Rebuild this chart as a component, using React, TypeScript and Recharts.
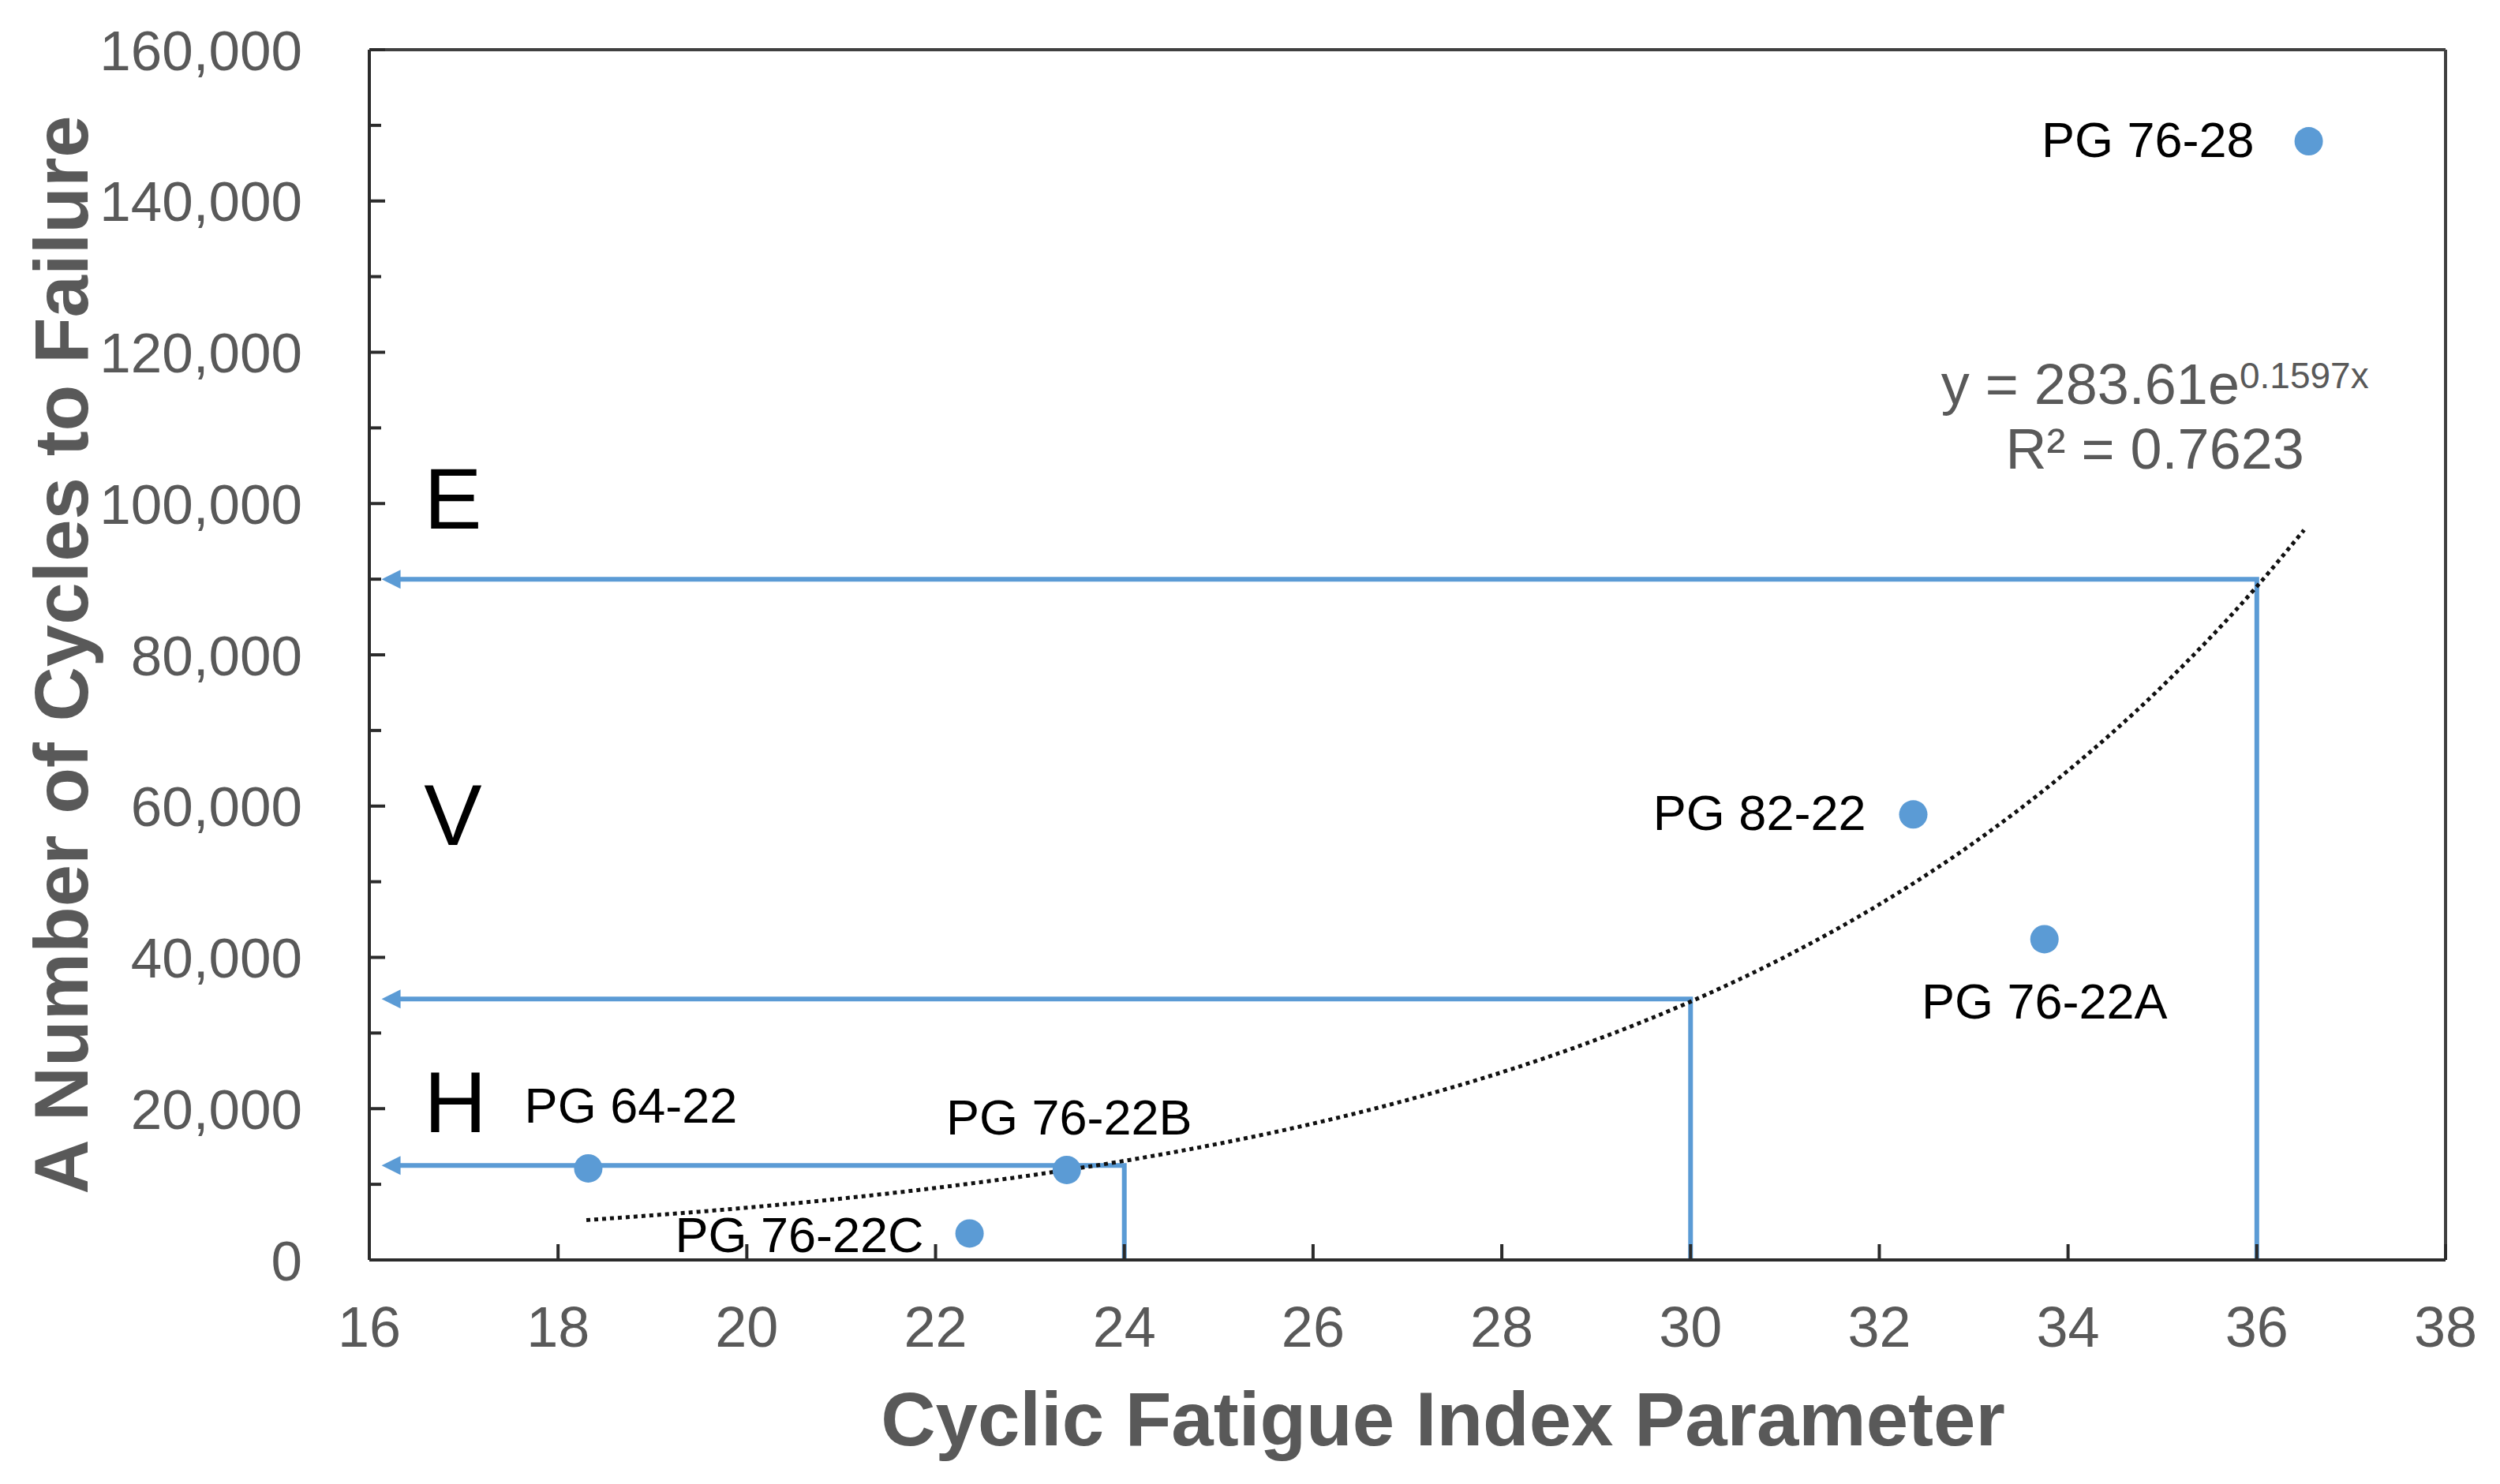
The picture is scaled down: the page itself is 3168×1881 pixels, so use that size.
import React from 'react';
import {
  ComposedChart,
  XAxis,
  YAxis,
  Scatter,
  Line,
  ReferenceLine,
  ReferenceDot,
} from 'recharts';

// ---------- data ----------
const binderNames = ['PG 64-22', 'PG 76-22B', 'PG 76-22C', 'PG 82-22', 'PG 76-22A', 'PG 76-28'];
const cfiValues = [18.32, 23.39, 22.36, 32.36, 33.75, 36.55];
const cyclesValues = [12100, 11900, 3500, 58900, 42400, 147900];

// exponential trendline y = 283.61e^(0.1597x)
const trendCfi = [18.3, 19, 20, 21, 22, 23, 24, 25, 26, 27, 28, 29, 30, 31, 32, 33, 34, 35, 36, 36.5];
const trendCycles = [
  5270, 5900, 6910, 8110, 9520, 11170, 13100, 15370, 18030, 21150, 24810, 29110, 34150, 40070,
  47000, 55140, 64690, 75870, 89030, 96500,
];

// traffic-level guide lines (CFI value -> cycles)
const guideCfi = [24, 30, 36];
const guideCycles = [12500, 34500, 90000];
const guideEndCfi = 16.25;
const arrowTipCfi = 16.13;

const xTicks = [16, 18, 20, 22, 24, 26, 28, 30, 32, 34, 36, 38];
const yTicks = [
  0, 10000, 20000, 30000, 40000, 50000, 60000, 70000, 80000, 90000, 100000, 110000, 120000,
  130000, 140000, 150000, 160000,
];

const zoneLetters = ['E', 'V', 'H'];
const zoneCycles = [96700, 54900, 16900];
const zoneCfi = 16.58;

const equationText = 'y = 283.61e';
const equationExp = '0.1597x';
const r2Text = 'R² = 0.7623';
const equationAnchor = { x: 34.92, y: 113200 };

const xTitle = 'Cyclic Fatigue Index Parameter';
const yTitle = 'A Number of Cycles to Failure';

// ---------- styles ----------
const FONT = '"Liberation Sans", Arial, Helvetica, sans-serif';
const BLUE = '#5B9BD5';
const GRAY_TEXT = '#595959';
const AXIS = '#2b2b2b';
const FRAME = '#404040';

const LABEL_STYLE: Record<string, { anchor: string; dx: number; dy: number }> = {
  'PG 76-28': { anchor: 'end', dx: -69, dy: 20 },
  'PG 82-22': { anchor: 'end', dx: -60, dy: 20 },
  'PG 76-22A': { anchor: 'middle', dx: 0, dy: 101 },
  'PG 76-22B': { anchor: 'middle', dx: 3, dy: -45 },
  'PG 76-22C': { anchor: 'end', dx: -58, dy: 24 },
  'PG 64-22': { anchor: 'middle', dx: 54, dy: -58 },
};

// ---------- derived series ----------
const points = binderNames.map((name, i) => ({ name, x: cfiValues[i], y: cyclesValues[i] }));
const trend = trendCfi.map((x, i) => ({ x, y: trendCycles[i] }));
const guides = guideCfi.map((cfi, i) => [
  { x: cfi, y: 0 },
  { x: cfi, y: guideCycles[i] },
  { x: guideEndCfi, y: guideCycles[i] },
]);
const arrows = guideCycles.map((y) => ({ x: arrowTipCfi, y }));

// ---------- custom renderers ----------
const YTick = (props: any) => {
  const { x, y, payload } = props;
  const v = payload.value as number;
  const major = v % 20000 === 0;
  return (
    <g>
      <line x1={x} x2={x + (major ? 20 : 15)} y1={y} y2={y} stroke={AXIS} strokeWidth={4} />
      {major && (
        <text
          x={x - 85}
          y={y}
          dy="0.36em"
          textAnchor="end"
          fontSize={71}
          fontFamily={FONT}
          fill={GRAY_TEXT}
        >
          {v.toLocaleString('en-US')}
        </text>
      )}
    </g>
  );
};

const XTick = (props: any) => {
  const { x, y, payload } = props;
  return (
    <g>
      <line x1={x} x2={x} y1={y} y2={y - 20} stroke={AXIS} strokeWidth={4} />
      <text x={x} y={y + 110} textAnchor="middle" fontSize={72} fontFamily={FONT} fill={GRAY_TEXT}>
        {payload.value}
      </text>
    </g>
  );
};

const DotShape = (props: any) => {
  const { cx, cy } = props;
  return <circle cx={cx} cy={cy} r={18} fill={BLUE} />;
};

const LabelShape = (props: any) => {
  const { cx, cy, payload } = props;
  const st = LABEL_STYLE[payload.name];
  return (
    <text
      x={cx + st.dx}
      y={cy + st.dy}
      textAnchor={st.anchor as any}
      fontSize={63}
      fontFamily={FONT}
      fill="#000"
    >
      {payload.name}
    </text>
  );
};

const ArrowShape = (props: any) => {
  const { cx, cy } = props;
  return <polygon points={`${cx},${cy} ${cx + 24},${cy - 12} ${cx + 24},${cy + 12}`} fill={BLUE} />;
};

const ZoneLabel = (letter: string) => (props: any) => {
  const vb = props.viewBox || {};
  return (
    <text x={vb.x} y={vb.y} textAnchor="start" fontSize={110} fontFamily={FONT} fill="#000">
      {letter}
    </text>
  );
};

const EquationLabel = (props: any) => {
  const vb = props.viewBox || {};
  return (
    <g>
      <text x={vb.x} y={vb.y} textAnchor="middle" fontSize={72} fontFamily={FONT} fill={GRAY_TEXT}>
        {equationText}
        <tspan fontSize={46} dy={-20}>
          {equationExp}
        </tspan>
      </text>
      <text
        x={vb.x}
        y={vb.y + 82}
        textAnchor="middle"
        fontSize={72}
        fontFamily={FONT}
        fill={GRAY_TEXT}
      >
        {r2Text}
      </text>
    </g>
  );
};

const XTitle = (props: any) => {
  const vb = props.viewBox || {};
  return (
    <text
      x={vb.x + vb.width / 2 + 45}
      y={vb.y + 235}
      textAnchor="middle"
      fontSize={96}
      fontWeight="bold"
      fontFamily={FONT}
      fill={GRAY_TEXT}
    >
      {xTitle}
    </text>
  );
};

const YTitle = (props: any) => {
  const vb = props.viewBox || {};
  const cx = 103;
  const cy = vb.y + vb.height / 2;
  return (
    <text
      x={cx}
      y={cy}
      transform={`rotate(-90, ${cx}, ${cy})`}
      textAnchor="middle"
      fontSize={96}
      fontWeight="bold"
      fontFamily={FONT}
      fill={GRAY_TEXT}
    >
      {yTitle}
    </text>
  );
};

export default function App() {
  return (
    <div style={{ width: 3152, height: 1865, background: '#fff' }}>
      <ComposedChart
        width={3152}
        height={1865}
        margin={{ top: 55, right: 61, left: 0, bottom: 76 }}
      >
        <XAxis
          type="number"
          dataKey="x"
          domain={[16, 38]}
          ticks={xTicks}
          interval={0}
          allowDataOverflow
          height={200}
          tickSize={0}
          tickMargin={0}
          tick={<XTick />}
          axisLine={{ stroke: AXIS, strokeWidth: 4 }}
          label={{ content: XTitle } as any}
        />
        <YAxis
          type="number"
          dataKey="y"
          domain={[0, 160000]}
          ticks={yTicks}
          interval={0}
          allowDataOverflow
          width={460}
          tickSize={0}
          tickMargin={0}
          tick={<YTick />}
          axisLine={{ stroke: AXIS, strokeWidth: 4 }}
          label={{ content: YTitle } as any}
        />
        <ReferenceLine y={160000} stroke={FRAME} strokeWidth={4} />
        <ReferenceLine x={38} stroke={FRAME} strokeWidth={4} />

        {guides.map((g, i) => (
          <Line
            key={`guide-${i}`}
            data={g}
            dataKey="y"
            type="linear"
            stroke={BLUE}
            strokeWidth={6}
            dot={false}
            activeDot={false}
            isAnimationActive={false}
            legendType="none"
          />
        ))}
        <Scatter data={arrows} shape={<ArrowShape />} isAnimationActive={false} />

        <Scatter data={points} shape={<DotShape />} isAnimationActive={false} />

        <Line
          data={trend}
          dataKey="y"
          type="monotone"
          stroke="#111"
          strokeWidth={5}
          strokeDasharray="5 5"
          dot={false}
          activeDot={false}
          isAnimationActive={false}
        />

        <Scatter data={points} shape={<LabelShape />} isAnimationActive={false} />

        {zoneLetters.map((letter, i) => (
          <ReferenceDot
            key={letter}
            x={zoneCfi}
            y={zoneCycles[i]}
            r={0}
            fill="none"
            stroke="none"
            label={{ content: ZoneLabel(letter) } as any}
          />
        ))}
        <ReferenceDot
          x={equationAnchor.x}
          y={equationAnchor.y}
          r={0}
          fill="none"
          stroke="none"
          label={{ content: EquationLabel } as any}
        />
      </ComposedChart>
    </div>
  );
}
